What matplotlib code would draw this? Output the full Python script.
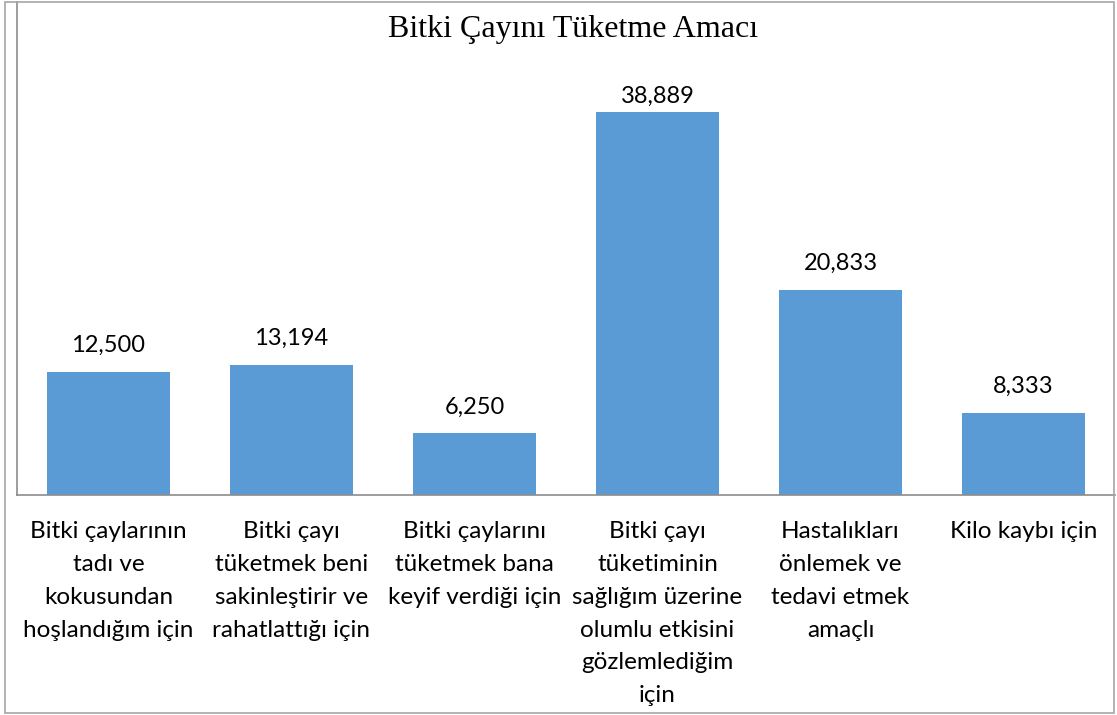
import matplotlib
matplotlib.use("Agg")
import matplotlib.pyplot as plt
from matplotlib.patches import Rectangle

categories = [
    "Bitki çaylarının\ntadı ve\nkokusundan\nhoşlandığım için",
    "Bitki çayı\ntüketmek beni\nsakinleştirir ve\nrahatlattığı için",
    "Bitki çaylarını\ntüketmek bana\nkeyif verdiği için",
    "Bitki çayı\ntüketiminin\nsağlığım üzerine\nolumlu etkisini\ngözlemlediğim\niçin",
    "Hastalıkları\nönlemek ve\ntedavi etmek\namaçlı",
    "Kilo kaybı için",
]
values = [12.500, 13.194, 6.250, 38.889, 20.833, 8.333]
value_labels = ["12,500", "13,194", "6,250", "38,889", "20,833", "8,333"]

label_font = ["Lato", "DejaVu Sans"]

fig = plt.figure(figsize=(11.17, 7.15), dpi=100)
ax = fig.add_axes([17 / 1117, 220 / 715, 1098 / 1117, 493 / 715])

x = list(range(len(values)))
ax.bar(x, values, width=0.667, color="#5B9BD5")
ax.set_xlim(-0.5, len(values) - 0.5)
ax.set_ylim(0, 50)

# labels sit above the bars, but the tallest one is pushed down (as in the original)
for xi, v, lab in zip(x, values, value_labels):
    ax.text(xi, min(v + 1.6, 39.4), lab, ha="center", va="bottom",
            fontsize=17, family=label_font, color="#000000")

ax.set_xticks(x)
ax.set_xticklabels(categories, fontsize=17.5, family=label_font,
                   linespacing=1.69, va="top")
ax.tick_params(axis="x", length=0, pad=19)
ax.set_yticks([])

for side in ["top", "right"]:
    ax.spines[side].set_visible(False)
for side in ["left", "bottom"]:
    ax.spines[side].set_color("#8C8C8C")
    ax.spines[side].set_linewidth(1.2)

fig.text(573 / 1117, 1 - 29 / 715, "Bitki Çayını Tüketme Amacı",
         ha="center", va="center", fontsize=23, family="Liberation Serif")

fig.patches.append(Rectangle((5 / 1117, 2 / 715), 1109 / 1117, 711 / 715,
                             transform=fig.transFigure, fill=False,
                             edgecolor="#A6A6A6", linewidth=1.2))

fig.savefig("out.png", dpi=100)
